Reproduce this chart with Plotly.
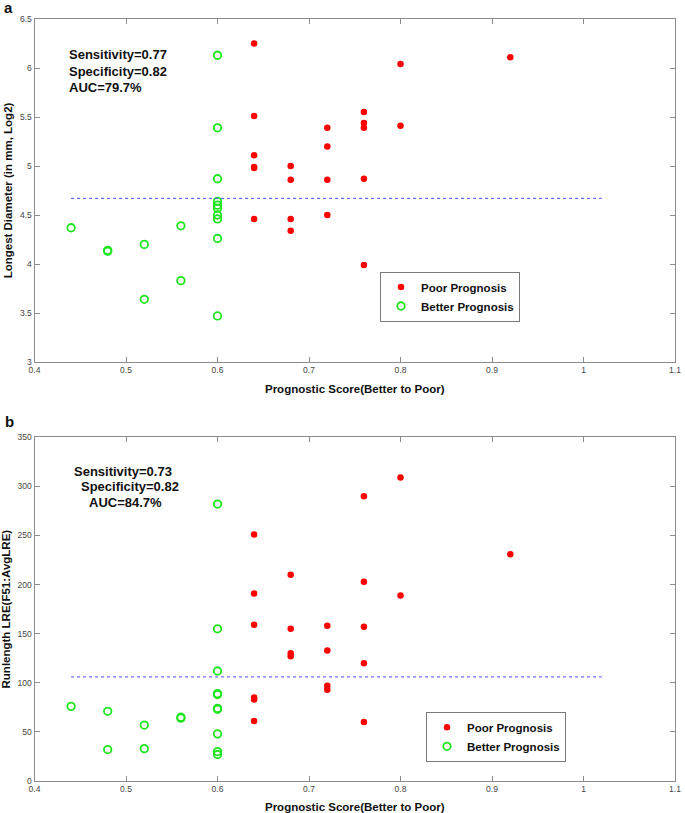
import plotly.graph_objects as go

# ---------------- data ----------------
poor_x = [0.64]*6 + [0.68]*4 + [0.72]*4 + [0.76]*5 + [0.80]*2 + [0.92]
better_x = [0.44, 0.48, 0.48, 0.52, 0.52, 0.56, 0.56] + [0.60]*10

poor_diam = [6.25, 5.51, 5.11, 4.99, 4.98, 4.46,
             5.00, 4.86, 4.46, 4.34,
             5.39, 5.20, 4.86, 4.50,
             5.55, 5.44, 5.39, 4.87, 3.99,
             6.04, 5.41,
             6.11]
better_diam = [4.37, 4.13, 4.14, 4.20, 3.64, 4.39, 3.83,
               6.13, 5.39, 4.87, 4.64, 4.60, 4.57, 4.50, 4.46, 4.26, 3.47]

poor_lre = [251, 191, 159, 85, 83, 61,
            210, 155, 130, 127,
            158, 133, 97, 93,
            290, 203, 157, 120, 60,
            309, 189,
            231]
better_lre = [76, 71, 32, 57, 33, 65, 64,
              282, 155, 112, 89, 88, 74, 73, 48, 30, 27]

thresh_x = [0.44, 1.02]
thresh_diam = 4.67
thresh_lre = 106

stats_a = ["Sensitivity=0.77", "Specificity=0.82", "AUC=79.7%"]
stats_b = ["Sensitivity=0.73", "Specificity=0.82", "AUC=84.7%"]

x_title = "Prognostic Score(Better to Poor)"
y_title_a = "Longest Diameter (in mm, Log2)"
y_title_b = "Runlength LRE(F51:AvgLRE)"

# ---------------- styling ----------------
W, H = 685, 813
FONT = "Arial, Liberation Sans, sans-serif"
RED = "#ff0000"
GREEN = "#1ee61e"
AXC = "#8c8c8c"

def py(p):
    return 1 - p / H

def px(p):
    return p / W

fig = go.Figure()

def add_panel(xa, ya, legend, poor_y, better_y, thr):
    fig.add_trace(go.Scatter(
        x=poor_x, y=poor_y, mode="markers", name="Poor Prognosis",
        marker=dict(color=RED, size=6.5, symbol="circle"),
        xaxis=xa, yaxis=ya, legend=legend))
    fig.add_trace(go.Scatter(
        x=better_x, y=better_y, mode="markers", name="Better Prognosis",
        marker=dict(color=GREEN, size=7.5, symbol="circle-open",
                    line=dict(color=GREEN, width=1.8)),
        xaxis=xa, yaxis=ya, legend=legend))
    fig.add_trace(go.Scatter(
        x=thresh_x, y=[thr, thr], mode="lines", showlegend=False,
        line=dict(color="#4a4aff", width=1, dash="dot"),
        xaxis=xa, yaxis=ya, hoverinfo="skip"))

add_panel("x", "y", "legend", poor_diam, better_diam, thresh_diam)
add_panel("x2", "y2", "legend2", poor_lre, better_lre, thresh_lre)

xdom = [px(34.5), px(675)]
axis_common = dict(
    showline=True, linecolor=AXC, linewidth=1, mirror="allticks",
    ticks="inside", ticklen=5, tickcolor=AXC, tickwidth=1,
    showgrid=False, zeroline=False, automargin=False,
    tickfont=dict(family=FONT, size=8.5, color="#444444"),
)
title_font = dict(family=FONT, size=11.5, color="#111111", weight="bold")
leg_font = dict(family=FONT, size=11.5, color="#111111", weight="bold")

fig.update_layout(
    width=W, height=H,
    margin=dict(l=0, r=0, t=0, b=0, autoexpand=False),
    paper_bgcolor="white", plot_bgcolor="white",
    font=dict(family=FONT),
    xaxis=dict(domain=xdom, range=[0.4, 1.1], dtick=0.1, tick0=0.4,
               anchor="y",
               title=dict(text=x_title, font=title_font, standoff=10),
               **axis_common),
    yaxis=dict(domain=[py(362), py(19)], range=[3, 6.5], dtick=0.5, tick0=3,
               anchor="x",
               title=dict(text=y_title_a, font=title_font, standoff=4),
               **axis_common),
    xaxis2=dict(domain=xdom, range=[0.4, 1.1], dtick=0.1, tick0=0.4,
                anchor="y2",
                title=dict(text=x_title, font=title_font, standoff=10),
                **axis_common),
    yaxis2=dict(domain=[py(781), py(437.3)], range=[0, 350], dtick=50, tick0=0,
                anchor="x2",
                title=dict(text=y_title_b, font=title_font, standoff=4),
                **axis_common),
    legend=dict(x=px(380), y=py(296.5), xanchor="left", yanchor="middle",
                bgcolor="white", bordercolor="#7a7a7a", borderwidth=1,
                font=leg_font, itemwidth=30, tracegroupgap=0),
    legend2=dict(x=px(426), y=py(736.8), xanchor="left", yanchor="middle",
                 bgcolor="white", bordercolor="#7a7a7a", borderwidth=1,
                 font=leg_font, itemwidth=30, tracegroupgap=0),
    showlegend=True,
)

ann = []
stat_font = dict(family=FONT, size=13, color="#111111", weight="bold")
for txt, xx, yy in zip(stats_a, [66.7, 66.7, 66.7], [54.3, 71, 87.7]):
    ann.append(dict(text=txt, x=px(xx), y=py(yy), xref="paper", yref="paper",
                    xanchor="left", yanchor="middle", showarrow=False, font=stat_font))
for txt, xx, yy in zip(stats_b, [71.7, 79, 86.7], [471, 486.7, 502.7]):
    ann.append(dict(text=txt, x=px(xx), y=py(yy), xref="paper", yref="paper",
                    xanchor="left", yanchor="middle", showarrow=False, font=stat_font))
panel_font = dict(family=FONT, size=15, color="#111111", weight="bold")
ann.append(dict(text="a", x=px(2), y=py(8), xref="paper", yref="paper",
                xanchor="left", yanchor="middle", showarrow=False, font=panel_font))
ann.append(dict(text="b", x=px(2.5), y=py(421), xref="paper", yref="paper",
                xanchor="left", yanchor="middle", showarrow=False, font=panel_font))
fig.update_layout(annotations=ann)

fig.write_html(
    "out.html",
    config={"displayModeBar": False},
    post_script="document.body.style.margin='0';document.body.style.overflow='hidden';",
)
